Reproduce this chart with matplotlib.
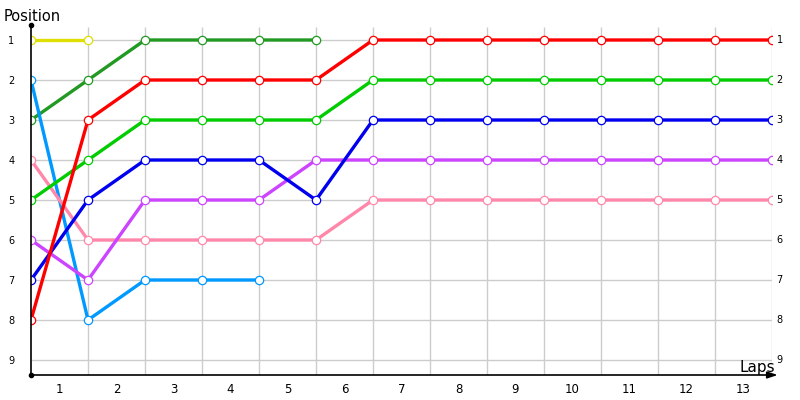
import matplotlib
matplotlib.use("Agg")
import matplotlib.pyplot as plt
import numpy as np

laps = list(range(0, 14))
lap_labels = [str(i) for i in range(1, 14)]
positions = [1, 2, 3, 4, 5, 6, 7, 8, 9]

yellow = [1, 1]
darkgreen = [3, 2, 1, 1, 1, 1]
red = [8, 3, 2, 2, 2, 2, 1, 1, 1, 1, 1, 1, 1, 1]
green = [5, 4, 3, 3, 3, 3, 2, 2, 2, 2, 2, 2, 2, 2]
blue = [7, 5, 4, 4, 4, 5, 3, 3, 3, 3, 3, 3, 3, 3]
purple = [6, 7, 5, 5, 5, 4, 4, 4, 4, 4, 4, 4, 4, 4]
pink = [4, 6, 6, 6, 6, 6, 5, 5, 5, 5, 5, 5, 5, 5]
lightblue = [2, 8, 7, 7, 7]

series = [
    (yellow, "#dede00"),
    (darkgreen, "#229922"),
    (lightblue, "#0099ff"),
    (pink, "#ff88aa"),
    (purple, "#cc44ff"),
    (blue, "#0000ee"),
    (green, "#00cc00"),
    (red, "#ff0000"),
]

fig = plt.figure(figsize=(8, 4), dpi=100)
ax = fig.add_axes([31 / 800, 25 / 400, 741 / 800, 350 / 400])
ax.set_xlim(0, 13)
ax.set_ylim(9.375, 0.625)

for s in ax.spines.values():
    s.set_visible(False)

grid_c = "#cccccc"
ax.hlines(positions, 0, 13, colors=grid_c, lw=1.0, zorder=1)
ax.vlines(laps[1:], 9.375, 0.675, colors=grid_c, lw=1.0, zorder=1)

for vals, c in series:
    xs = laps[:len(vals)]
    ax.plot(xs, vals, color=c, lw=2.4, zorder=3, solid_capstyle="butt")
    ax.plot(xs, vals, ls="none", marker="o", ms=6, mfc="white", mec=c,
            mew=0.9, zorder=4)

# axes lines
ax.plot([0, 0], [9.375, 0.625], color="black", lw=1.2, clip_on=False, zorder=5)
ax.plot([0], [0.625], marker="o", ms=3, color="black", clip_on=False, zorder=5)
ax.plot([0], [9.375], marker="o", ms=3, color="black", clip_on=False, zorder=5)
ax.annotate("", xy=(13.1, 9.375), xytext=(0, 9.375), xycoords="data",
            annotation_clip=False,
            arrowprops=dict(arrowstyle="-|>,head_length=0.6,head_width=0.2",
                            color="black", lw=1.2, shrinkA=0, shrinkB=0))

ax.set_xticks([i + 0.5 for i in range(13)])
ax.set_xticklabels(lap_labels, fontsize=8.5)
ax.set_yticks(positions)
ax.set_yticklabels([str(p) for p in positions], fontsize=7)
ax.tick_params(axis="x", length=0, pad=6)
ax.tick_params(axis="y", length=0, pad=12, labelright=False)
for p in positions:
    ax.text(13.08, p, str(p), fontsize=7, ha="left", va="center")

fig.text(4 / 800, 1 - 21 / 400, "Position", fontsize=10.5, ha="left",
         va="baseline")
ax.text(13.05, 9.3, "Laps", fontsize=11, ha="right", va="baseline")

fig.savefig("out.png", dpi=100)
